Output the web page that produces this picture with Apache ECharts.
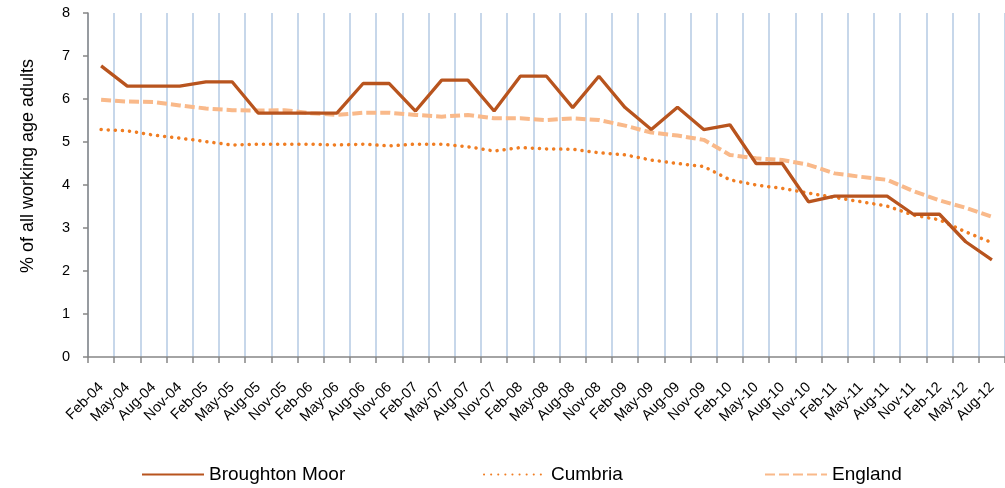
<!DOCTYPE html>
<html>
<head>
<meta charset="utf-8">
<script src="https://cdn.jsdelivr.net/npm/echarts@6/dist/echarts.min.js"></script>
<style>
    html, body { margin: 0; padding: 0; background: #fff; overflow: hidden; }
    #main { width: 1005px; height: 488px; }
</style>
</head>
<body>
<div id="main"></div>
<script>
// quarterly labels, Feb-04 .. Aug-12
var months = ['Feb-04', 'May-04', 'Aug-04', 'Nov-04',
    'Feb-05', 'May-05', 'Aug-05', 'Nov-05',
    'Feb-06', 'May-06', 'Aug-06', 'Nov-06',
    'Feb-07', 'May-07', 'Aug-07', 'Nov-07',
    'Feb-08', 'May-08', 'Aug-08', 'Nov-08',
    'Feb-09', 'May-09', 'Aug-09', 'Nov-09',
    'Feb-10', 'May-10', 'Aug-10', 'Nov-10',
    'Feb-11', 'May-11', 'Aug-11', 'Nov-11',
    'Feb-12', 'May-12', 'Aug-12'];

var broughton = [6.77, 6.30, 6.30, 6.30, 6.40, 6.40, 5.67, 5.67, 5.67, 5.67,
    6.36, 6.36, 5.72, 6.44, 6.44, 5.72, 6.53, 6.53, 5.80, 6.53,
    5.80, 5.29, 5.81, 5.29, 5.40, 4.50, 4.50, 3.61, 3.74, 3.74,
    3.74, 3.32, 3.32, 2.68, 2.26];

var cumbria = [5.29, 5.26, 5.16, 5.09, 5.01, 4.93, 4.95, 4.95, 4.95, 4.93,
    4.95, 4.91, 4.95, 4.95, 4.89, 4.79, 4.87, 4.84, 4.83, 4.75,
    4.70, 4.58, 4.50, 4.43, 4.12, 4.00, 3.92, 3.81, 3.71, 3.61,
    3.51, 3.30, 3.19, 2.91, 2.66];

var england = [5.98, 5.94, 5.93, 5.85, 5.78, 5.74, 5.73, 5.74, 5.67, 5.63,
    5.68, 5.68, 5.63, 5.59, 5.63, 5.55, 5.55, 5.51, 5.55, 5.51,
    5.38, 5.22, 5.15, 5.05, 4.70, 4.62, 4.58, 4.47, 4.27, 4.19,
    4.12, 3.86, 3.64, 3.47, 3.26];

var font = "'Liberation Sans', Arial, sans-serif";
var axisGrey = '#878787';

var myChart = echarts.init(document.getElementById('main'));

// one legend per series so each sits where the original has it
function legendAt(name, left) {
    return {
        data: [name],
        left: left,
        top: 460,
        itemWidth: 62,
        itemHeight: 14,
        itemStyle: { opacity: 0 },
        textStyle: { fontFamily: font, fontSize: 19, color: '#000' }
    };
}

var option = {
    animation: false,
    grid: { left: 88, right: -5.5, top: 13, bottom: 131 },
    legend: [
        legendAt('Broughton Moor', 136),
        legendAt('Cumbria', 478),
        legendAt('England', 759)
    ],
    graphic: [{
        type: 'text',
        x: 28,
        y: 166,
        rotation: Math.PI / 2,
        style: {
            text: '% of all working age adults',
            font: '18px ' + font,
            fill: '#000',
            textAlign: 'center',
            textVerticalAlign: 'middle'
        }
    }],
    xAxis: {
        type: 'category',
        data: months,
        boundaryGap: true,
        axisLine: { lineStyle: { color: axisGrey, width: 1.5 } },
        axisTick: { show: true, interval: 0, length: 6, lineStyle: { color: axisGrey, width: 1.5 } },
        axisLabel: { interval: 0, rotate: 45, margin: 28, fontFamily: font, fontSize: 14.5, color: '#000' },
        splitLine: { show: true, interval: 0, lineStyle: { color: '#b9cde5', width: 1.6 } }
    },
    yAxis: {
        type: 'value',
        min: 0,
        max: 8,
        interval: 1,
        axisLine: { show: true, lineStyle: { color: axisGrey, width: 1.5 } },
        axisTick: { show: true, length: 5, lineStyle: { color: axisGrey, width: 1.5 } },
        axisLabel: { margin: 18, fontFamily: font, fontSize: 14.5, color: '#000' },
        splitLine: { show: false }
    },
    series: [
        {
            name: 'Broughton Moor',
            type: 'line',
            data: broughton,
            symbol: 'none',
            z: 5,
            itemStyle: { color: '#b8541e' },
            lineStyle: { color: '#b8541e', width: 3.3 }
        },
        {
            name: 'Cumbria',
            type: 'line',
            data: cumbria,
            symbol: 'none',
            z: 3,
            itemStyle: { color: '#f07d22' },
            lineStyle: { color: '#f07d22', width: 3.5, type: [0.1, 7], cap: 'round' }
        },
        {
            name: 'England',
            type: 'line',
            data: england,
            symbol: 'none',
            z: 4,
            itemStyle: { color: '#f9b98a' },
            lineStyle: { color: '#f9b98a', width: 4, type: [10, 4] }
        }
    ]
};

myChart.setOption(option);
</script>
</body>
</html>
